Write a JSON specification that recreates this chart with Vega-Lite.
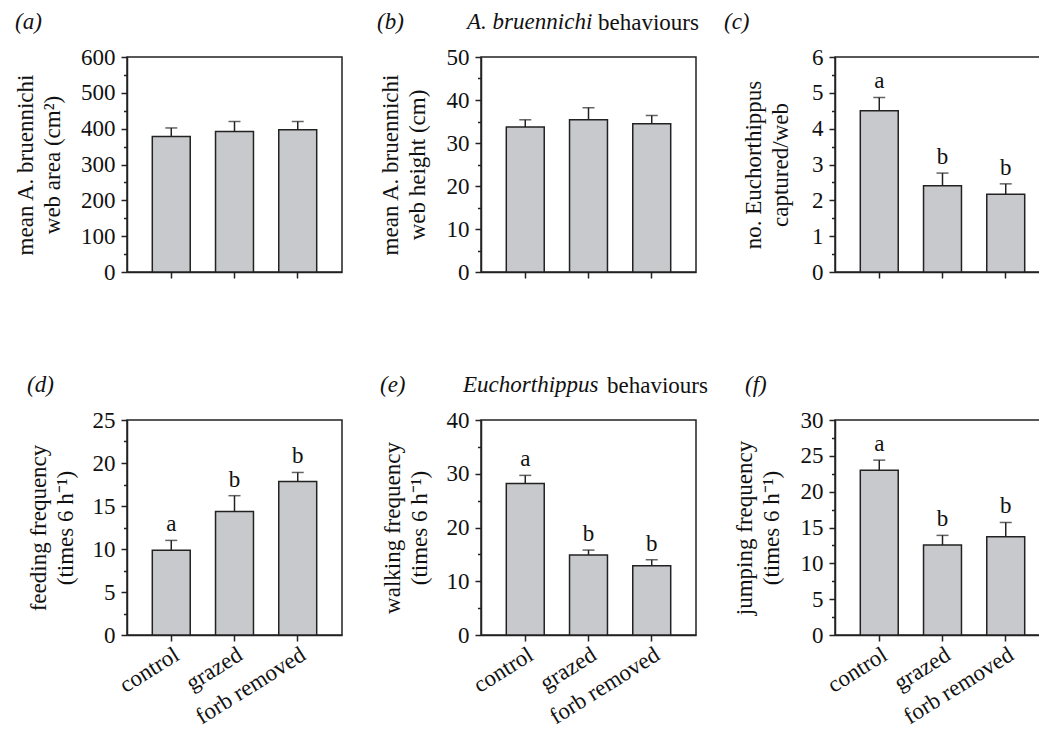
{
  "$schema": "https://vega.github.io/schema/vega-lite/v6.json",
  "padding": {"left": 13, "top": 10, "right": 0, "bottom": 0},
  "datasets": {
    "d": [
      {"panel": "a", "treatment": "control", "mean": 378, "upper": 402, "letter": ""},
      {"panel": "a", "treatment": "grazed", "mean": 392, "upper": 420, "letter": ""},
      {"panel": "a", "treatment": "forb removed", "mean": 397, "upper": 420, "letter": ""},
      {"panel": "b", "treatment": "control", "mean": 33.7, "upper": 35.4, "letter": ""},
      {"panel": "b", "treatment": "grazed", "mean": 35.4, "upper": 38.2, "letter": ""},
      {"panel": "b", "treatment": "forb removed", "mean": 34.5, "upper": 36.4, "letter": ""},
      {"panel": "c", "treatment": "control", "mean": 4.5, "upper": 4.87, "letter": "a"},
      {"panel": "c", "treatment": "grazed", "mean": 2.41, "upper": 2.76, "letter": "b"},
      {"panel": "c", "treatment": "forb removed", "mean": 2.17, "upper": 2.46, "letter": "b"},
      {"panel": "d", "treatment": "control", "mean": 9.85, "upper": 11.0, "letter": "a"},
      {"panel": "d", "treatment": "grazed", "mean": 14.37, "upper": 16.2, "letter": "b"},
      {"panel": "d", "treatment": "forb removed", "mean": 17.85, "upper": 18.9, "letter": "b"},
      {"panel": "e", "treatment": "control", "mean": 28.2, "upper": 29.7, "letter": "a"},
      {"panel": "e", "treatment": "grazed", "mean": 14.9, "upper": 15.8, "letter": "b"},
      {"panel": "e", "treatment": "forb removed", "mean": 12.9, "upper": 14.0, "letter": "b"},
      {"panel": "f", "treatment": "control", "mean": 23.0, "upper": 24.4, "letter": "a"},
      {"panel": "f", "treatment": "grazed", "mean": 12.56, "upper": 13.9, "letter": "b"},
      {"panel": "f", "treatment": "forb removed", "mean": 13.7, "upper": 15.7, "letter": "b"}
    ]
  },
  "vconcat": [
    {
      "title": {"text": "behaviours", "fontStyle": "normal", "anchor": "start", "frame": "group", "dx": 471, "dy": 37},
      "hconcat": [
        {
          "width": 215, "height": 215,
          "data": {"name": "d"},
          "transform": [{"filter": "datum.panel === 'a'"}],
          "title": {"text": "(a)", "dx": -112},
          "encoding": {"x": {"field": "treatment", "type": "nominal", "scale": {"domain": ["control", "grazed", "forb removed"], "paddingInner": 0.4, "paddingOuter": 0.4}, "axis": {"title": null, "labels": false, "tickSize": 6}}},
          "layer": [
            {"mark": {"type": "bar", "fill": "#c8c9cc", "stroke": "#222", "strokeWidth": 1.5},
             "encoding": {"y": {"field": "mean", "type": "quantitative", "scale": {"domain": [0, 600]},
               "axis": {"title": ["mean A. bruennichi", "web area (cm²)"], "titleX": -95, "tickCount": 50, "values": [0,50,100,150,200,250,300,350,400,450,500,550,600], "labelExpr": "datum.value % 100 === 0 ? '' + datum.value : ''", "labelFontSize": {"condition": {"test": "datum.value % 100 !== 0", "value": 0}, "value": 23}, "labelOverlap": false, "tickSize": {"condition": {"test": "datum.value % 100 === 0", "value": 6}, "value": 3.5}, "labelPadding": 6}}}},
            {"mark": {"type": "rule", "color": "#222", "strokeWidth": 1.5},
             "encoding": {"y": {"field": "mean", "type": "quantitative", "scale": {"domain": [0, 600]}, "title": ["mean A. bruennichi", "web area (cm²)"]}, "y2": {"field": "upper"}}},
            {"mark": {"type": "tick", "color": "#222", "size": 12, "thickness": 1.5},
             "encoding": {"y": {"field": "upper", "type": "quantitative", "scale": {"domain": [0, 600]}, "title": ["mean A. bruennichi", "web area (cm²)"]}}}
          ]
        },
        {
          "width": 215, "height": 215,
          "data": {"name": "d"},
          "transform": [{"filter": "datum.panel === 'b'"}],
          "title": {"text": "(b)\u00a0\u00a0\u00a0\u00a0\u00a0\u00a0\u00a0\u00a0\u00a0\u00a0\u00a0A. bruennichi", "dx": -104},
          "encoding": {"x": {"field": "treatment", "type": "nominal", "scale": {"domain": ["control", "grazed", "forb removed"], "paddingInner": 0.4, "paddingOuter": 0.4}, "axis": {"title": null, "labels": false, "tickSize": 6}}},
          "layer": [
            {"mark": {"type": "bar", "fill": "#c8c9cc", "stroke": "#222", "strokeWidth": 1.5},
             "encoding": {"y": {"field": "mean", "type": "quantitative", "scale": {"domain": [0, 50]},
               "axis": {"title": ["mean A. bruennichi", "web height (cm)"], "titleX": -84, "tickCount": 50, "values": [0,5,10,15,20,25,30,35,40,45,50], "labelExpr": "datum.value % 10 === 0 ? '' + datum.value : ''", "labelFontSize": {"condition": {"test": "datum.value % 10 !== 0", "value": 0}, "value": 23}, "labelOverlap": false, "tickSize": {"condition": {"test": "datum.value % 10 === 0", "value": 6}, "value": 3.5}, "labelPadding": 6}}}},
            {"mark": {"type": "rule", "color": "#222", "strokeWidth": 1.5},
             "encoding": {"y": {"field": "mean", "type": "quantitative", "scale": {"domain": [0, 50]}, "title": ["mean A. bruennichi", "web height (cm)"]}, "y2": {"field": "upper"}}},
            {"mark": {"type": "tick", "color": "#222", "size": 12, "thickness": 1.5},
             "encoding": {"y": {"field": "upper", "type": "quantitative", "scale": {"domain": [0, 50]}, "title": ["mean A. bruennichi", "web height (cm)"]}}}
          ]
        },
        {
          "width": 215, "height": 215,
          "data": {"name": "d"},
          "transform": [{"filter": "datum.panel === 'c'"}],
          "title": {"text": "(c)", "dx": -111},
          "encoding": {"x": {"field": "treatment", "type": "nominal", "scale": {"domain": ["control", "grazed", "forb removed"], "paddingInner": 0.4, "paddingOuter": 0.4}, "axis": {"title": null, "labels": false, "tickSize": 6}}},
          "layer": [
            {"mark": {"type": "bar", "fill": "#c8c9cc", "stroke": "#222", "strokeWidth": 1.5},
             "encoding": {"y": {"field": "mean", "type": "quantitative", "scale": {"domain": [0, 6]},
               "axis": {"title": ["no. Euchorthippus", "captured/web"], "titleX": -75, "tickCount": 50, "values": [0,0.5,1,1.5,2,2.5,3,3.5,4,4.5,5,5.5,6], "labelExpr": "datum.value % 1 === 0 ? '' + datum.value : ''", "labelFontSize": {"condition": {"test": "datum.value % 1 !== 0", "value": 0}, "value": 23}, "labelOverlap": false, "tickSize": {"condition": {"test": "datum.value % 1 === 0", "value": 6}, "value": 3.5}, "labelPadding": 6}}}},
            {"mark": {"type": "rule", "color": "#222", "strokeWidth": 1.5},
             "encoding": {"y": {"field": "mean", "type": "quantitative", "scale": {"domain": [0, 6]}, "title": ["no. Euchorthippus", "captured/web"]}, "y2": {"field": "upper"}}},
            {"mark": {"type": "tick", "color": "#222", "size": 12, "thickness": 1.5},
             "encoding": {"y": {"field": "upper", "type": "quantitative", "scale": {"domain": [0, 6]}, "title": ["no. Euchorthippus", "captured/web"]}}},
            {"mark": {"type": "text", "fontSize": 23, "baseline": "alphabetic", "dy": -9, "color": "#111"},
             "encoding": {"y": {"field": "upper", "type": "quantitative", "scale": {"domain": [0, 6]}, "title": ["no. Euchorthippus", "captured/web"]}, "text": {"field": "letter"}}}
          ]
        }
      ],
      "spacing": 139,
      "bounds": "flush"
    },
    {
      "title": {"text": "behaviours", "fontStyle": "normal", "anchor": "start", "frame": "group", "dx": 480, "dy": 37},
      "hconcat": [
        {
          "width": 215, "height": 215,
          "data": {"name": "d"},
          "transform": [{"filter": "datum.panel === 'd'"}],
          "title": {"text": "(d)", "dx": -100},
          "encoding": {"x": {"field": "treatment", "type": "nominal", "scale": {"domain": ["control", "grazed", "forb removed"], "paddingInner": 0.4, "paddingOuter": 0.4}, "axis": {"title": null, "tickSize": 6, "labelAngle": -32, "labelAlign": "right", "labelBaseline": "top", "labelPadding": 2}}},
          "layer": [
            {"mark": {"type": "bar", "fill": "#c8c9cc", "stroke": "#222", "strokeWidth": 1.5},
             "encoding": {"y": {"field": "mean", "type": "quantitative", "scale": {"domain": [0, 25]},
               "axis": {"title": ["feeding frequency", "(times 6 h⁻¹)"], "titleX": -82, "tickCount": 50, "values": [0,2.5,5,7.5,10,12.5,15,17.5,20,22.5,25], "labelExpr": "datum.value % 5 === 0 ? '' + datum.value : ''", "labelFontSize": {"condition": {"test": "datum.value % 5 !== 0", "value": 0}, "value": 23}, "labelOverlap": false, "tickSize": {"condition": {"test": "datum.value % 5 === 0", "value": 6}, "value": 3.5}, "labelPadding": 6}}}},
            {"mark": {"type": "rule", "color": "#222", "strokeWidth": 1.5},
             "encoding": {"y": {"field": "mean", "type": "quantitative", "scale": {"domain": [0, 25]}, "title": ["feeding frequency", "(times 6 h⁻¹)"]}, "y2": {"field": "upper"}}},
            {"mark": {"type": "tick", "color": "#222", "size": 12, "thickness": 1.5},
             "encoding": {"y": {"field": "upper", "type": "quantitative", "scale": {"domain": [0, 25]}, "title": ["feeding frequency", "(times 6 h⁻¹)"]}}},
            {"mark": {"type": "text", "fontSize": 23, "baseline": "alphabetic", "dy": -9, "color": "#111"},
             "encoding": {"y": {"field": "upper", "type": "quantitative", "scale": {"domain": [0, 25]}, "title": ["feeding frequency", "(times 6 h⁻¹)"]}, "text": {"field": "letter"}}}
          ]
        },
        {
          "width": 215, "height": 215,
          "data": {"name": "d"},
          "transform": [{"filter": "datum.panel === 'e'"}],
          "title": {"text": "(e)\u00a0\u00a0\u00a0\u00a0\u00a0\u00a0\u00a0\u00a0\u00a0\u00a0Euchorthippus", "dx": -101},
          "encoding": {"x": {"field": "treatment", "type": "nominal", "scale": {"domain": ["control", "grazed", "forb removed"], "paddingInner": 0.4, "paddingOuter": 0.4}, "axis": {"title": null, "tickSize": 6, "labelAngle": -32, "labelAlign": "right", "labelBaseline": "top", "labelPadding": 2}}},
          "layer": [
            {"mark": {"type": "bar", "fill": "#c8c9cc", "stroke": "#222", "strokeWidth": 1.5},
             "encoding": {"y": {"field": "mean", "type": "quantitative", "scale": {"domain": [0, 40]},
               "axis": {"title": ["walking frequency", "(times 6 h⁻¹)"], "titleX": -82, "tickCount": 50, "values": [0,5,10,15,20,25,30,35,40], "labelExpr": "datum.value % 10 === 0 ? '' + datum.value : ''", "labelFontSize": {"condition": {"test": "datum.value % 10 !== 0", "value": 0}, "value": 23}, "labelOverlap": false, "tickSize": {"condition": {"test": "datum.value % 10 === 0", "value": 6}, "value": 3.5}, "labelPadding": 6}}}},
            {"mark": {"type": "rule", "color": "#222", "strokeWidth": 1.5},
             "encoding": {"y": {"field": "mean", "type": "quantitative", "scale": {"domain": [0, 40]}, "title": ["walking frequency", "(times 6 h⁻¹)"]}, "y2": {"field": "upper"}}},
            {"mark": {"type": "tick", "color": "#222", "size": 12, "thickness": 1.5},
             "encoding": {"y": {"field": "upper", "type": "quantitative", "scale": {"domain": [0, 40]}, "title": ["walking frequency", "(times 6 h⁻¹)"]}}},
            {"mark": {"type": "text", "fontSize": 23, "baseline": "alphabetic", "dy": -9, "color": "#111"},
             "encoding": {"y": {"field": "upper", "type": "quantitative", "scale": {"domain": [0, 40]}, "title": ["walking frequency", "(times 6 h⁻¹)"]}, "text": {"field": "letter"}}}
          ]
        },
        {
          "width": 215, "height": 215,
          "data": {"name": "d"},
          "transform": [{"filter": "datum.panel === 'f'"}],
          "title": {"text": "(f)", "dx": -90},
          "encoding": {"x": {"field": "treatment", "type": "nominal", "scale": {"domain": ["control", "grazed", "forb removed"], "paddingInner": 0.4, "paddingOuter": 0.4}, "axis": {"title": null, "tickSize": 6, "labelAngle": -32, "labelAlign": "right", "labelBaseline": "top", "labelPadding": 2}}},
          "layer": [
            {"mark": {"type": "bar", "fill": "#c8c9cc", "stroke": "#222", "strokeWidth": 1.5},
             "encoding": {"y": {"field": "mean", "type": "quantitative", "scale": {"domain": [0, 30]},
               "axis": {"title": ["jumping frequency", "(times 6 h⁻¹)"], "titleX": -84, "tickCount": 50, "values": [0,2.5,5,7.5,10,12.5,15,17.5,20,22.5,25,27.5,30], "labelExpr": "datum.value % 5 === 0 ? '' + datum.value : ''", "labelFontSize": {"condition": {"test": "datum.value % 5 !== 0", "value": 0}, "value": 23}, "labelOverlap": false, "tickSize": {"condition": {"test": "datum.value % 5 === 0", "value": 6}, "value": 3.5}, "labelPadding": 6}}}},
            {"mark": {"type": "rule", "color": "#222", "strokeWidth": 1.5},
             "encoding": {"y": {"field": "mean", "type": "quantitative", "scale": {"domain": [0, 30]}, "title": ["jumping frequency", "(times 6 h⁻¹)"]}, "y2": {"field": "upper"}}},
            {"mark": {"type": "tick", "color": "#222", "size": 12, "thickness": 1.5},
             "encoding": {"y": {"field": "upper", "type": "quantitative", "scale": {"domain": [0, 30]}, "title": ["jumping frequency", "(times 6 h⁻¹)"]}}},
            {"mark": {"type": "text", "fontSize": 23, "baseline": "alphabetic", "dy": -9, "color": "#111"},
             "encoding": {"y": {"field": "upper", "type": "quantitative", "scale": {"domain": [0, 30]}, "title": ["jumping frequency", "(times 6 h⁻¹)"]}, "text": {"field": "letter"}}}
          ]
        }
      ],
      "spacing": 139,
      "bounds": "flush"
    }
  ],
  "spacing": 363,
  "bounds": "flush",
  "config": {
    "font": "Liberation Serif",
    "background": "white",
    "view": {"stroke": "#222", "strokeWidth": 1.5},
    "axis": {"labelFontSize": 23, "titleFontSize": 23, "titleFontWeight": "normal", "labelColor": "#111", "titleColor": "#111", "domainColor": "#222", "domainWidth": 1.5, "tickColor": "#222", "tickWidth": 1.5, "grid": false, "titleLineHeight": 27, "titleBaseline": "alphabetic", "labelOverlap": false},
    "title": {"fontSize": 23, "fontWeight": "normal", "fontStyle": "italic", "anchor": "start", "frame": "group", "baseline": "alphabetic", "color": "#111", "offset": 12, "lineHeight": 23}
  }
}
